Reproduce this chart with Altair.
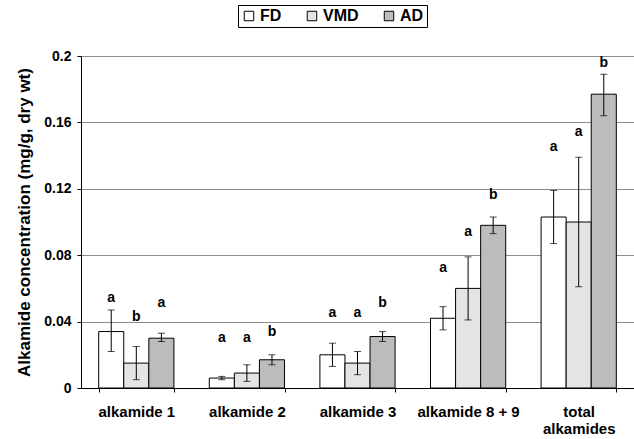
import altair as alt
import pandas as pd

categories = ["alkamide 1", "alkamide 2", "alkamide 3", "alkamide 8 + 9", "total alkamides"]
treatments = ["FD", "VMD", "AD"]

fd_mean = [0.034, 0.006, 0.020, 0.042, 0.103]
fd_low = [0.022, 0.005, 0.013, 0.035, 0.087]
fd_high = [0.047, 0.007, 0.027, 0.049, 0.119]

vmd_mean = [0.015, 0.009, 0.015, 0.060, 0.100]
vmd_low = [0.005, 0.004, 0.008, 0.041, 0.061]
vmd_high = [0.025, 0.014, 0.022, 0.079, 0.139]

ad_mean = [0.030, 0.017, 0.031, 0.098, 0.177]
ad_low = [0.028, 0.014, 0.028, 0.093, 0.164]
ad_high = [0.033, 0.020, 0.034, 0.103, 0.189]

fd_letter = ["a", "a", "a", "a", "a"]
vmd_letter = ["b", "a", "a", "a", "a"]
ad_letter = ["a", "b", "b", "b", "b"]

fd_letter_y = [0.054, 0.030, 0.045, 0.072, 0.145]
vmd_letter_y = [0.043, 0.030, 0.045, 0.094, 0.154]
ad_letter_y = [0.051, 0.034, 0.051, 0.116, 0.196]

rows = []
series = {
    "FD": (fd_mean, fd_low, fd_high, fd_letter, fd_letter_y),
    "VMD": (vmd_mean, vmd_low, vmd_high, vmd_letter, vmd_letter_y),
    "AD": (ad_mean, ad_low, ad_high, ad_letter, ad_letter_y),
}
for t in treatments:
    m, lo, hi, let, ly = series[t]
    for i, c in enumerate(categories):
        rows.append({"category": c, "treatment": t, "mean": m[i], "low": lo[i],
                     "high": hi[i], "letter": let[i], "letter_y": ly[i]})
df = pd.DataFrame(rows)

FONT = "Liberation Sans"

x = alt.X("category:N", sort=categories, title=None,
          scale=alt.Scale(paddingInner=0.32, paddingOuter=0.16),
          axis=alt.Axis(labelAngle=0, labelFont=FONT, labelFontSize=15, labelFontWeight="bold",
                        labelColor="black", labelPadding=12, tickBand="extent", tickSize=4,
                        tickColor="black", domainColor="black", labelLineHeight=17,
                        labelExpr="datum.label == 'total alkamides' ? ['total', 'alkamides'] : datum.label"))
xo = alt.XOffset("treatment:N", sort=treatments, scale=alt.Scale(paddingInner=0, paddingOuter=0))
yscale = alt.Scale(domain=[0, 0.2], nice=False)

base = alt.Chart(df)

bars = base.mark_bar(stroke="black", strokeWidth=1).encode(
    x=x, xOffset=xo,
    y=alt.Y("mean:Q", scale=yscale, title="Alkamide concentration (mg/g, dry wt)",
            axis=alt.Axis(values=[0, 0.04, 0.08, 0.12, 0.16, 0.2], format=".2~f",
                          labelFont=FONT, labelFontSize=14, labelFontWeight="bold",
                          labelColor="black", titleFont=FONT, titleFontSize=17,
                          titleFontWeight="bold", titleColor="black", titlePadding=10,
                          tickSize=4, tickColor="black", domainColor="black",
                          gridColor="#8c8c8c", gridWidth=1, labelPadding=6)),
    fill=alt.Fill("treatment:N", sort=treatments,
                  scale=alt.Scale(domain=treatments, range=["#ffffff", "#e4e4e4", "#bcbcbc"]),
                  legend=alt.Legend(title=None, orient="none", legendX=157, legendY=-51,
                                    direction="horizontal", symbolType="square", symbolSize=90,
                                    symbolStrokeColor="black", symbolStrokeWidth=1,
                                    labelFont=FONT, labelFontSize=16, labelFontWeight="bold",
                                    labelColor="black", columnPadding=22, labelOffset=3,
                                    strokeColor="black", padding=3)),
)

err = base.mark_rule(color="black", strokeWidth=1).encode(
    x=x, xOffset=xo, y=alt.Y("low:Q", scale=yscale), y2="high:Q")
cap_lo = base.mark_tick(color="black", thickness=1, size=7, orient="horizontal").encode(
    x=x, xOffset=xo, y=alt.Y("low:Q", scale=yscale))
cap_hi = base.mark_tick(color="black", thickness=1, size=7, orient="horizontal").encode(
    x=x, xOffset=xo, y=alt.Y("high:Q", scale=yscale))

letters = base.mark_text(font=FONT, fontSize=14, fontWeight="bold", color="black",
                         baseline="middle").encode(
    x=x, xOffset=xo, y=alt.Y("letter_y:Q", scale=yscale), text="letter:N")

chart = alt.layer(bars, err, cap_lo, cap_hi, letters).properties(
    width=553, height=332,
    autosize=alt.AutoSizeParams(type="none"),
    padding={"left": 81, "top": 56, "right": 0, "bottom": 51},
).configure_view(stroke=None).configure(background="white")

chart.save("out.html", embed_options={"renderer": "svg", "actions": False})
